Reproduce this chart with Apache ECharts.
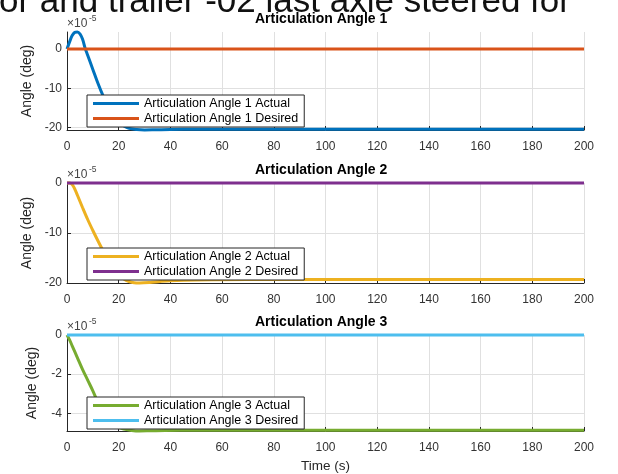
<!DOCTYPE html>
<html>
<head>
<meta charset="utf-8">
<script src="https://cdn.jsdelivr.net/npm/echarts@6/dist/echarts.min.js"></script>
<style>
html,body{margin:0;padding:0;background:#fff;}
#chart{width:618px;height:474px;}
</style>
</head>
<body>
<div id="chart"></div>
<script>
// ---- data (values in units of 1e-5 deg) ----
const xTicks = [0, 20, 40, 60, 80, 100, 120, 140, 160, 180, 200];
const yTicks1 = [-20, -10, 0];
const yTicks2 = [-20, -10, 0];
const yTicks3 = [-4, -2, 0];

const time1 = [0, 1, 2, 3, 4, 5, 6, 7, 8, 10, 12, 14, 16, 18, 20, 22, 24, 27, 30, 34, 40, 50, 70, 200];
const angle1Actual = [0, 1.8, 3.4, 4.2, 4.3, 3.8, 2.5, 0.2, -1.6, -5.2, -8.8, -12.0, -14.8, -17.0, -18.6, -19.6, -20.2, -20.5, -20.6, -20.55, -20.45, -20.4, -20.4, -20.4];

const time2 = [0, 1, 2, 3, 4, 6, 8, 10, 12, 14, 16, 18, 20, 22, 24, 26, 28, 32, 36, 40, 50, 70, 200];
const angle2Actual = [0, 0, -0.3, -1.2, -2.4, -4.9, -7.3, -9.5, -11.6, -13.6, -15.4, -17.0, -18.3, -19.2, -19.7, -19.95, -20.0, -19.9, -19.7, -19.55, -19.4, -19.3, -19.3];

const time3 = [0, 1, 2, 4, 6, 8, 10, 12, 14, 16, 18, 20, 22, 25, 28, 32, 38, 50, 200];
const angle3Actual = [0, -0.25, -0.55, -1.15, -1.75, -2.3, -2.85, -3.45, -3.95, -4.3, -4.55, -4.72, -4.8, -4.87, -4.9, -4.89, -4.87, -4.86, -4.86];

const timeDesired = [0, 200];
const angle1Desired = [0, 0];
const angle2Desired = [0, 0];
const angle3Desired = [0, 0];

const yRange1 = [-20.6, 4.3];
const yRange2 = [-20, 0];
const yRange3 = [-4.9, 0];

const titles = ['Articulation Angle 1', 'Articulation Angle 2', 'Articulation Angle 3'];
const names = [
  ['Articulation Angle 1 Actual', 'Articulation Angle 1 Desired'],
  ['Articulation Angle 2 Actual', 'Articulation Angle 2 Desired'],
  ['Articulation Angle 3 Actual', 'Articulation Angle 3 Desired']
];
const colors = [
  ['#0072BD', '#D95319'],
  ['#EDB120', '#7E2F8E'],
  ['#77AC30', '#4DBEEE']
];
const headerText = 'or and trailer -02 last axle steered for';

// ---- layout ----
const FONT = '"Liberation Sans", Arial, Helvetica, sans-serif';
const grids = [
  {left: 67, top: 32, width: 517, height: 98},
  {left: 67, top: 183, width: 517, height: 100},
  {left: 67, top: 335, width: 517, height: 98}
];
const legendTops = [95, 248, 397];
const yTicksAll = [yTicks1, yTicks2, yTicks3];
const yRanges = [yRange1, yRange2, yRange3];
const actualT = [time1, time2, time3];
const actualV = [angle1Actual, angle2Actual, angle3Actual];
const desiredV = [angle1Desired, angle2Desired, angle3Desired];

function zip(a, b) { return a.map((v, i) => [v, b[i]]); }

const xAxes = [], yAxes = [], series = [], legends = [], graphics = [];
for (let i = 0; i < 3; i++) {
  xAxes.push({
    type: 'value', gridIndex: i, min: 0, max: 200, interval: 20,
    name: i === 2 ? 'Time (s)' : '', nameLocation: 'middle', nameGap: 28,
    nameTextStyle: {fontFamily: FONT, fontSize: 13.5, color: '#262626'},
    axisLine: {show: true, onZero: false, lineStyle: {color: '#262626', width: 1}},
    axisTick: {show: true, inside: true, length: 4, lineStyle: {color: '#262626'}},
    axisLabel: {fontFamily: FONT, fontSize: 12, color: '#333', margin: 11},
    splitLine: {show: true, lineStyle: {color: '#e0e0e0', width: 1}}
  });
  yAxes.push({
    type: 'value', gridIndex: i, min: yRanges[i][0], max: yRanges[i][1],
    name: 'Angle (deg)', nameLocation: 'middle', nameGap: 28,
    nameTextStyle: {fontFamily: FONT, fontSize: 14, color: '#262626'},
    axisLine: {show: true, lineStyle: {color: '#262626', width: 1}},
    axisTick: {show: true, inside: true, length: 4, customValues: yTicksAll[i], lineStyle: {color: '#262626'}},
    axisLabel: {fontFamily: FONT, fontSize: 12, color: '#333', margin: 5, customValues: yTicksAll[i], showMinLabel: true, showMaxLabel: true},
    splitLine: {show: true, lineStyle: {color: '#e0e0e0', width: 1}}
  });
  series.push({
    name: names[i][0], type: 'line', xAxisIndex: i, yAxisIndex: i,
    data: zip(actualT[i], actualV[i]), smooth: 0.35, symbol: 'none', clip: false,
    lineStyle: {color: colors[i][0], width: 3}, itemStyle: {color: colors[i][0]}
  });
  series.push({
    name: names[i][1], type: 'line', xAxisIndex: i, yAxisIndex: i,
    data: zip(timeDesired, desiredV[i]), symbol: 'none', clip: false,
    lineStyle: {color: colors[i][1], width: 3}, itemStyle: {color: colors[i][1]}
  });
  legends.push({
    data: names[i], orient: 'vertical', left: 87, top: legendTops[i],
    icon: 'rect', itemWidth: 46, itemHeight: 3, itemGap: 2,
    padding: [2, 6, 2, 6], borderColor: '#262626', borderWidth: 1,
    backgroundColor: '#ffffff', selectedMode: false,
    textStyle: {fontFamily: FONT, fontSize: 12.5, color: '#000'}
  });
  graphics.push({
    type: 'text', left: 325 - 70, top: grids[i].top - 20, z: 20,
    style: {text: titles[i], font: 'bold 14px ' + FONT, fill: '#000'}
  });
  graphics.push({
    type: 'text', left: 67, top: grids[i].top - 14, z: 10,
    style: {text: '×10', font: '12px ' + FONT, fill: '#444'}
  });
  graphics.push({
    type: 'text', left: 89, top: grids[i].top - 18, z: 10,
    style: {text: '-5', font: '8.5px ' + FONT, fill: '#444'}
  });
}
graphics.push({
  type: 'text', left: -1, top: -15, z: 10,
  style: {text: headerText, font: '35px ' + FONT, fill: '#111'}
});

const chart = echarts.init(document.getElementById('chart'), null, {renderer: 'canvas'});
chart.setOption({
  animation: false,
  backgroundColor: '#fff',
  grid: grids,
  xAxis: xAxes,
  yAxis: yAxes,
  legend: legends,
  series: series,
  graphic: graphics
});
</script>
</body>
</html>
